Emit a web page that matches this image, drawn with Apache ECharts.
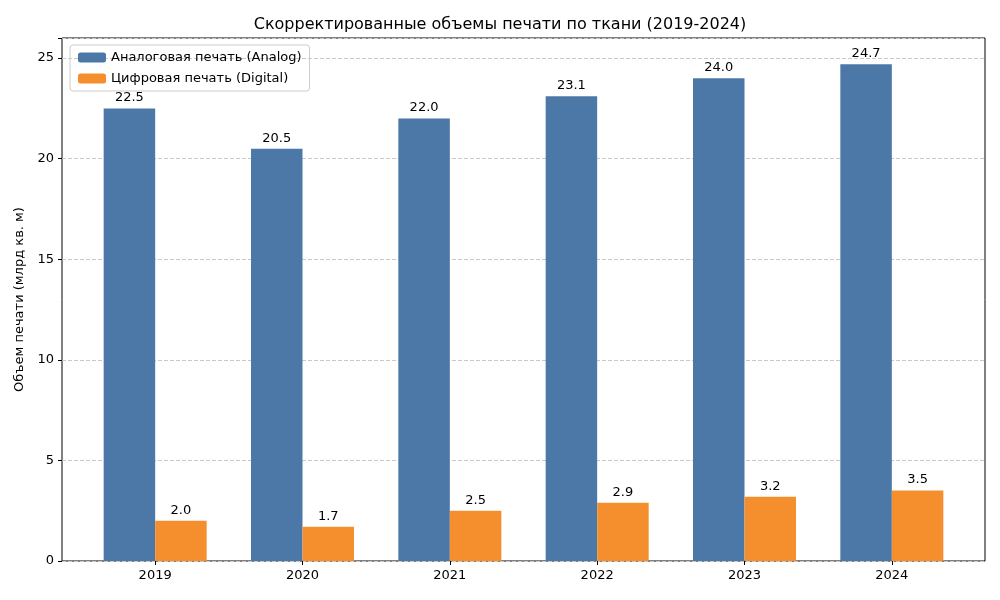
<!DOCTYPE html>
<html><head><meta charset="utf-8">
<script src="https://cdn.jsdelivr.net/npm/echarts@6/dist/echarts.min.js"></script>
<style>html,body{margin:0;padding:0;background:#fff}#c{width:1000px;height:600px}</style>
</head><body><div id="c"></div>
<script>
const categories = ['2019','2020','2021','2022','2023','2024'];
const analog = [22.5, 20.5, 22.0, 23.1, 24.0, 24.7];
const digital = [2.0, 1.7, 2.5, 2.9, 3.2, 3.5];
const yTicks = [0, 5, 10, 15, 20, 25];
const font = 'DejaVu Sans';
const chart = echarts.init(document.getElementById('c'));
const lbl = {show:true, position:'top', distance:4, color:'#000', fontSize:13, fontFamily:font, formatter:p=>p.value.toFixed(1)};
chart.setOption({
  animation:false,
  title:{text:'Скорректированные объемы печати по ткани (2019-2024)', left:'center', top:12, textStyle:{fontFamily:font, fontSize:16, fontWeight:'normal', color:'#000'}},
  legend:{left:70, top:45, orient:'vertical', itemWidth:28, itemHeight:10, itemGap:8, borderColor:'#ccc', borderWidth:1, borderRadius:3, padding:[6,8], textStyle:{fontFamily:font, fontSize:13, color:'#000'}, data:['Аналоговая печать (Analog)','Цифровая печать (Digital)']},
  grid:[{left:62, right:15, top:38, bottom:39, show:true, borderColor:'#000', borderWidth:1, backgroundColor:'transparent'},
        {left:81.5, right:34.5, top:38, bottom:39}],
  xAxis:[{type:'value', gridIndex:0, min:0, max:1, axisLine:{show:false}, axisTick:{show:false}, axisLabel:{show:false}, splitLine:{show:false}},
         {type:'category', gridIndex:1, data:categories, axisLine:{show:false}, axisTick:{show:true, alignWithLabel:true, length:4, lineStyle:{color:'#000'}}, axisLabel:{fontFamily:font, fontSize:13, color:'#000', margin:8}}],
  yAxis:[{type:'value', gridIndex:0, min:0, max:26, interval:5, axisLine:{show:false}, axisTick:{show:true, length:4, lineStyle:{color:'#000'}},
          axisLabel:{fontFamily:font, fontSize:13, color:'#000', formatter:v=>yTicks.includes(v)?String(v):''},
          splitLine:{show:true, lineStyle:{type:'dashed', color:'#c8c8c8'}},
          name:'Объем печати (млрд кв. м)', nameLocation:'middle', nameGap:36, nameTextStyle:{fontFamily:font, fontSize:13, color:'#000'}},
         {type:'value', gridIndex:1, min:0, max:26, show:false}],
  series:[
    {name:'Аналоговая печать (Analog)', type:'bar', xAxisIndex:1, yAxisIndex:1, data:analog, barWidth:51.5, barGap:'0%', itemStyle:{color:'#4c78a8'}, label:lbl},
    {name:'Цифровая печать (Digital)', type:'bar', xAxisIndex:1, yAxisIndex:1, data:digital, barWidth:51.5, barGap:'0%', itemStyle:{color:'#f58f2e'}, label:lbl}
  ]
});
</script></body></html>
